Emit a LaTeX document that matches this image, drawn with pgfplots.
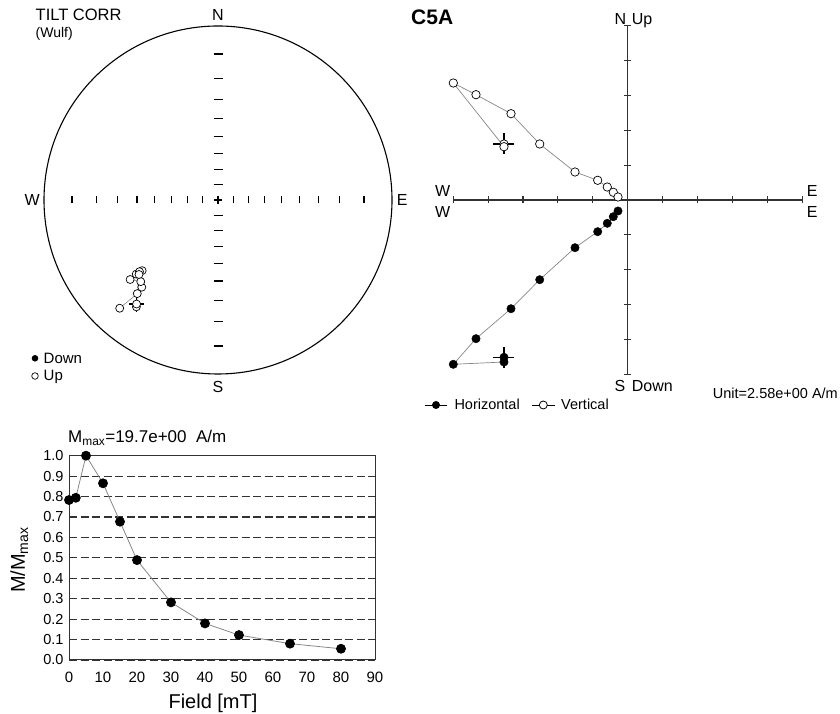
\documentclass[border=0pt]{standalone}
\usepackage{fontspec}
\setmainfont{Liberation Sans}
\usepackage{pgfplots}
\pgfplotsset{compat=1.18}
\definecolor{lgray}{RGB}{135,135,135}
\definecolor{dgray}{RGB}{50,50,50}
\newcommand{\fs}[1]{\fontsize{#1}{#1}\selectfont}

\begin{document}
\begin{tikzpicture}
\begin{scope}[x=1pt,y=1pt]
\path[use as bounding box] (0,0) rectangle (840,714);
% ---------- stereonet frame ----------
\draw[line width=1.1pt] (218,514) circle[radius=174pt];
\foreach \d in {15.2,30.7,46.6,63.3,81.1,100.5,121.8,146.0}{
  \draw[line width=1.2pt] ({218+\d},510.5) -- ({218+\d},517.5);
  \draw[line width=1.2pt] ({218-\d},510.5) -- ({218-\d},517.5);
  \draw[line width=1.2pt] (213.5,{514+\d}) -- (222.5,{514+\d});
  \draw[line width=1.2pt] (213.5,{514-\d}) -- (222.5,{514-\d});
}
\draw[line width=1.2pt] (214,514) -- (222,514);
\draw[line width=1.2pt] (218,510) -- (218,518);
\node[font=\fs{16}] at (218,698.7) {N};
\node[font=\fs{16}] at (218,327) {S};
\node[font=\fs{16}] at (32.3,514) {W};
\node[font=\fs{16}] at (402.3,514) {E};
\node[font=\fs{16.5},anchor=west,inner sep=0] at (35.5,698.7) {TILT CORR};
\node[font=\fs{14},anchor=west,inner sep=0] at (35.5,679.7) {(Wulf)};
\fill (35,355.7) circle[radius=3.3pt];
\draw[line width=0.7pt] (35,338) circle[radius=3.3pt];
\node[font=\fs{15},anchor=base west,inner sep=0] at (43.5,350.7) {Down};
\node[font=\fs{15},anchor=base west,inner sep=0] at (43.5,333) {Up};
% ---------- Zijderveld frame ----------
\draw[line width=1.3pt,dgray] (453.2,514) -- (802.2,514);
\draw[line width=1.3pt,dgray] (627.7,339.5) -- (627.7,688.5);
\foreach \k in {-5,...,5}{
  \draw[line width=1.1pt,dgray] ({627.7+\k*34.9},510.5) -- ({627.7+\k*34.9},517.5);
  \draw[line width=1.1pt,dgray] (624.2,{514+\k*34.9}) -- (631.2,{514+\k*34.9});
}
\node[font=\fs{21}\bfseries,anchor=base west,inner sep=0] at (411,689) {C5A};
\node[font=\fs{16},anchor=base west,inner sep=0] at (614.3,689.3) {N};
\node[font=\fs{16},anchor=base west,inner sep=0] at (631.7,689.3) {Up};
\node[font=\fs{16},anchor=base west,inner sep=0] at (614.3,322.7) {S};
\node[font=\fs{16},anchor=base west,inner sep=0] at (631.7,322.7) {Down};
\node[font=\fs{16},anchor=base west,inner sep=0] at (435,517.7) {W};
\node[font=\fs{16},anchor=base west,inner sep=0] at (435,496) {W};
\node[font=\fs{16},anchor=base west,inner sep=0] at (806.7,517.7) {E};
\node[font=\fs{16},anchor=base west,inner sep=0] at (806.7,496) {E};
\draw[line width=0.8pt] (425,309) -- (446.7,309);
\fill (436,309) circle[radius=4pt];
\node[font=\fs{14.5},anchor=base west,inner sep=0] at (454.3,304) {Horizontal};
\draw[line width=0.8pt] (531.7,309) -- (555,309);
\draw[line width=0.8pt,fill=white] (543.3,309) circle[radius=4pt];
\node[font=\fs{14.5},anchor=base west,inner sep=0] at (561,304) {Vertical};
\node[font=\fs{14.5},anchor=base west,inner sep=0] at (712.7,315.7) {Unit=2.58e+00 A/m};
% ---------- demag labels ----------
\node[font=\fs{17},anchor=base west,inner sep=0] at (68,271.2) {M\textsubscript{max}=19.7e+00\ \ A/m};
\node[font=\fs{20},rotate=90,anchor=base,inner sep=0] at (25,154) {M/M\textsubscript{max}};
\node[font=\fs{20},anchor=base,inner sep=0] at (213,5.7) {Field [mT]};
\end{scope}

% ---------- stereonet data ----------
\begin{axis}[at={(44pt,340pt)},anchor=south west,width=348pt,height=348pt,scale only axis,
  xmin=-1,xmax=1,ymin=-1,ymax=1,hide axis,clip=false]
\addplot[lgray,line width=0.6pt] coordinates {
  (-0.468,-0.598) (-0.469,-0.614) (-0.454,-0.428) (-0.451,-0.412) (-0.436,-0.406)
  (-0.470,-0.426) (-0.505,-0.457) (-0.444,-0.469) (-0.438,-0.501) (-0.464,-0.538) (-0.565,-0.622)};
\addplot[only marks,mark=+,mark size=7.5pt,mark options={line width=1.1pt}] coordinates {(-0.468,-0.598)};
\addplot[only marks,mark=*,mark size=4pt,mark options={fill=white,draw=black,line width=0.7pt}] coordinates {
  (-0.565,-0.622) (-0.464,-0.538) (-0.438,-0.501) (-0.444,-0.469) (-0.505,-0.457)
  (-0.470,-0.426) (-0.436,-0.406) (-0.451,-0.412) (-0.454,-0.428) (-0.469,-0.614) (-0.468,-0.598)};
\end{axis}

% ---------- Zijderveld data ----------
\begin{axis}[at={(453.2pt,339.5pt)},anchor=south west,width=349pt,height=349pt,scale only axis,
  xmin=-5,xmax=5,ymin=-5,ymax=5,hide axis,clip=false]
% horizontal projection (E, N)
\addplot[lgray,line width=0.7pt] coordinates {
  (-3.545,-4.507) (-3.545,-4.642) (-4.997,-4.708) (-4.347,-3.974) (-3.344,-3.115)
  (-2.521,-2.284) (-1.510,-1.367) (-0.860,-0.908) (-0.585,-0.668) (-0.413,-0.479) (-0.278,-0.315)};
% vertical projection (E, Up)
\addplot[lgray,line width=0.7pt] coordinates {
  (-3.545,1.605) (-3.545,1.527) (-4.997,3.352) (-4.347,3.017) (-3.344,2.473)
  (-2.521,1.605) (-1.510,0.802) (-0.860,0.564) (-0.585,0.372) (-0.413,0.221) (-0.278,0.086)};
\addplot[only marks,mark=+,mark size=10.5pt,mark options={line width=1.1pt}] coordinates {(-3.545,-4.507) (-3.545,1.605)};
\addplot[only marks,mark=*,mark size=4.2pt,mark options={fill=black,draw=black}] coordinates {
  (-3.545,-4.507) (-3.545,-4.642) (-4.997,-4.708) (-4.347,-3.974) (-3.344,-3.115)
  (-2.521,-2.284) (-1.510,-1.367) (-0.860,-0.908) (-0.585,-0.668) (-0.413,-0.479) (-0.278,-0.315)};
\addplot[only marks,mark=*,mark size=4.2pt,mark options={fill=white,draw=black,line width=0.7pt}] coordinates {
  (-3.545,1.605) (-3.545,1.527) (-4.997,3.352) (-4.347,3.017) (-3.344,2.473)
  (-2.521,1.605) (-1.510,0.802) (-0.860,0.564) (-0.585,0.372) (-0.413,0.221) (-0.278,0.086)};
\end{axis}

% ---------- demagnetisation curve ----------
\begin{axis}[at={(69pt,54pt)},anchor=south west,width=306pt,height=204.3pt,scale only axis,
  xmin=0,xmax=90,ymin=0,ymax=1,
  xtick={0,10,20,30,40,50,60,70,80,90},
  ytick={0,0.1,0.2,0.3,0.4,0.5,0.6,0.7,0.8,0.9,1},
  major tick length=0pt,
  axis line style={dgray,line width=1pt},
  ymajorgrids,
  grid style={dgray,line width=1.1pt,dash pattern=on 8pt off 3.5pt},
  /pgf/number format/assume math mode=true,
  yticklabel style={/pgf/number format/fixed,/pgf/number format/fixed zerofill,
    /pgf/number format/precision=1,font=\fs{14.5},xshift=-2pt},
  xticklabel style={font=\fs{15},yshift=-8pt},
  clip=false]
\addplot[lgray,line width=0.8pt,mark=*,mark size=4.5pt,mark options={fill=black,draw=black}] coordinates {
  (0,0.783) (2,0.794) (5,1.0) (10,0.865) (15,0.677) (20,0.489)
  (30,0.282) (40,0.179) (50,0.122) (65,0.080) (80,0.055)};
\end{axis}
\end{tikzpicture}
\end{document}
